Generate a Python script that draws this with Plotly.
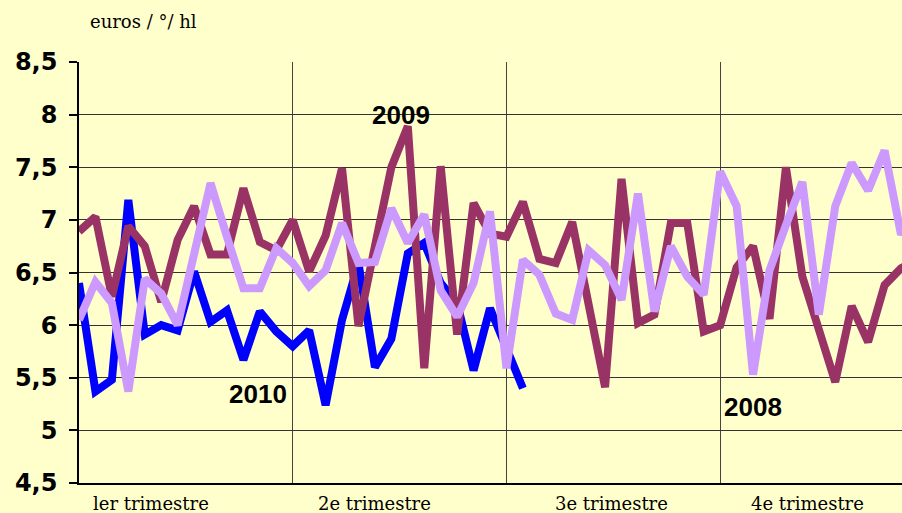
import plotly.graph_objects as go

weeks = list(range(1, 53))

# maroon series (2009)
serie_2009 = [6.89, 7.03, 6.27, 6.94, 6.75, 6.22, 6.81, 7.13, 6.67, 6.67,
              7.30, 6.79, 6.71, 7.00, 6.51, 6.85, 7.49, 5.99, 6.75, 7.50,
              7.89, 5.59, 7.51, 5.91, 7.16, 6.87, 6.84, 7.17, 6.63, 6.59,
              6.98, 6.20, 5.41, 7.39, 6.02, 6.10, 6.97, 6.97, 5.94, 6.00,
              6.55, 6.75, 6.06, 7.50, 6.46, 5.96, 5.46, 6.18, 5.84, 6.38,
              6.54, 6.62]

# light violet series (2008)
serie_2008 = [6.05, 6.41, 6.21, 5.37, 6.44, 6.30, 6.00, 6.70, 7.35, 6.84,
              6.35, 6.35, 6.73, 6.59, 6.37, 6.52, 6.97, 6.59, 6.60, 7.11,
              6.78, 7.05, 6.33, 6.08, 6.40, 7.08, 5.59, 6.62, 6.48, 6.11,
              6.05, 6.71, 6.57, 6.24, 7.25, 6.13, 6.75, 6.46, 6.29, 7.46,
              7.13, 5.53, 6.52, 6.95, 7.36, 6.10, 7.13, 7.54, 7.28, 7.66,
              6.86, 7.20]

# blue series (2010)
serie_2010 = [6.40, 5.37, 5.48, 7.19, 5.91, 6.00, 5.95, 6.51, 6.03, 6.14,
              5.67, 6.13, 5.94, 5.80, 5.95, 5.24, 6.05, 6.59, 5.60, 5.87,
              6.68, 6.78, 6.40, 6.21, 5.57, 6.16, 5.78, 5.40]

quarter_starts = [1, 14, 27, 40]
quarter_labels = ["ler trimestre", "2e trimestre", "3e trimestre", "4e trimestre"]
quarter_label_x = [5.4, 19.0, 33.4, 45.3]

year_labels = ["2009", "2010", "2008"]
year_label_x = [20.6, 11.9, 42.0]
year_label_y = [8.0, 5.35, 5.22]

fig = go.Figure()
fig.add_trace(go.Scatter(x=weeks[:len(serie_2010)], y=serie_2010, mode="lines",
                         line=dict(color="#0000FF", width=8)))
fig.add_trace(go.Scatter(x=weeks, y=serie_2009, mode="lines",
                         line=dict(color="#993366", width=8)))
fig.add_trace(go.Scatter(x=weeks, y=serie_2008, mode="lines",
                         line=dict(color="#CC99FF", width=8)))

annotations = []
for lab, xv, yv in zip(year_labels, year_label_x, year_label_y):
    annotations.append(dict(x=xv, y=yv, xref="x", yref="y", text=lab, showarrow=False,
                            font=dict(family="Liberation Sans Narrow, Arial Narrow, Liberation Sans",
                                      size=26, color="black", weight="bold")))
for lab, xv in zip(quarter_labels, quarter_label_x):
    annotations.append(dict(x=xv, y=-0.048, xref="x", yref="paper", text=lab, showarrow=False,
                            yanchor="middle",
                            font=dict(family="DejaVu Serif", size=18, color="black")))
annotations.append(dict(x=0.011, y=1.097, xref="paper", yref="paper", text="euros / °/ hl",
                        showarrow=False, xanchor="left", yanchor="middle",
                        font=dict(family="DejaVu Serif", size=18, color="black")))

fig.update_layout(
    width=902, height=513,
    margin=dict(l=79, r=0, t=62, b=30),
    paper_bgcolor="#FFFFCC", plot_bgcolor="#FFFFCC",
    showlegend=False, separators=", ",
    annotations=annotations,
)
fig.update_xaxes(range=[1, 51.06], tickvals=quarter_starts, showticklabels=False,
                 showgrid=True, gridcolor="#444444", gridwidth=1.2,
                 showline=True, linecolor="black", linewidth=1.5, zeroline=False, ticks="")
fig.update_yaxes(range=[4.5, 8.5], tick0=4.5, dtick=0.5,
                 showgrid=True, gridcolor="#333333", gridwidth=1.2,
                 showline=True, linecolor="black", linewidth=1.5, zeroline=False,
                 ticks="outside", ticklen=8, tickcolor="black", tickwidth=1.5,
                 ticklabelstandoff=7,
                 tickfont=dict(family="DejaVu Sans", size=24, color="black", weight="bold"))

fig.write_html("out.html", config={"displayModeBar": False},
               post_script="document.body.style.margin='0';document.body.style.overflow='hidden';")
